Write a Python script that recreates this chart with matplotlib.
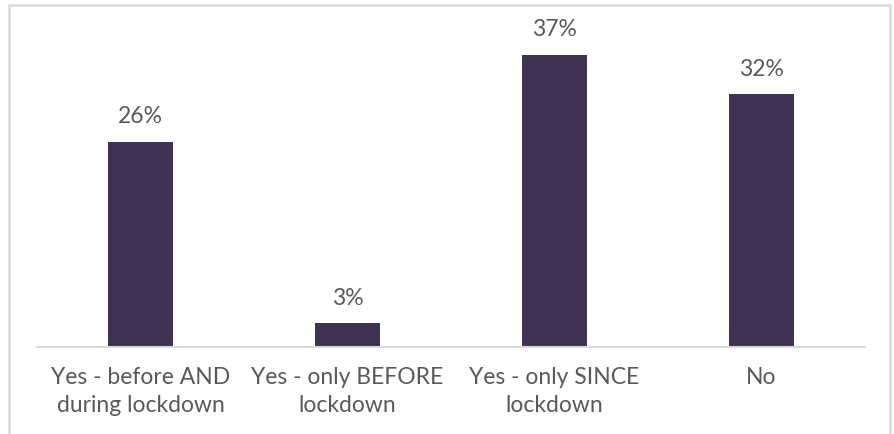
import matplotlib.pyplot as plt
from matplotlib.patches import Rectangle

categories = ['Yes - before AND\nduring lockdown', 'Yes - only BEFORE\nlockdown',
              'Yes - only SINCE\nlockdown', 'No']
values = [26, 3, 37, 32]

bar_color = '#413152'
text_color = '#595959'
grid_color = '#d9d9d9'

plt.rcParams['font.family'] = ['Lato', 'DejaVu Sans']

W, H = 894, 434
fig = plt.figure(figsize=(W / 100, H / 100), dpi=100)

# plot area in pixels: x 37..865, baseline at y=347
left, right, top, base = 37, 865, 20, 347
ax = fig.add_axes([left / W, (H - base) / H, (right - left) / W, (base - top) / H])

x = range(len(values))
bars = ax.bar(x, values, width=0.31, color=bar_color, zorder=2)
ax.set_xlim(-0.5, len(values) - 0.5)
ax.set_ylim(0, (base - top) / 7.9)

for b, v in zip(bars, values):
    ax.annotate(f'{v}%', (b.get_x() + b.get_width() / 2, v), xytext=(0, 10.5),
                textcoords='offset points', ha='center', va='bottom',
                fontsize=16.5, color=text_color)

ax.set_xticks(list(x))
ax.set_xticklabels(categories, fontsize=16.5, color=text_color, linespacing=1.42)
ax.tick_params(axis='x', length=0, pad=14.5)
ax.set_yticks([])
for s in ['top', 'right', 'left']:
    ax.spines[s].set_visible(False)
ax.spines['bottom'].set_color(grid_color)
ax.spines['bottom'].set_linewidth(1.5)

# outer chart frame, running past the bottom edge
fig.patches.append(Rectangle((8.5 / W, -0.1), (890 - 8.5) / W, (H - 5) / H + 0.1,
                             transform=fig.transFigure, fill=False,
                             edgecolor=grid_color, linewidth=1.8))

fig.savefig('out.png', dpi=100)
